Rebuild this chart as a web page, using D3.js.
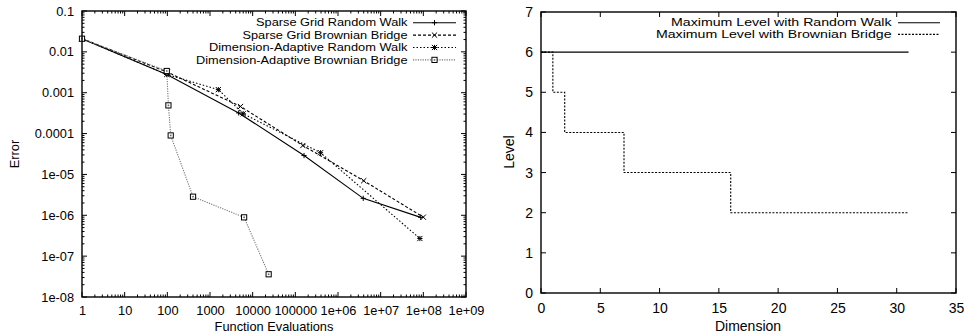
<!DOCTYPE html>
<html>
<head>
<meta charset="utf-8">
<script src="https://cdn.jsdelivr.net/npm/d3@7"></script>
<style>
	body { margin: 0; background: #fff; }
	svg { display: block; font-family: 'Liberation Sans', Arial, sans-serif; }
	text { fill: #000; }
</style>
</head>
<body>
<svg id="chart" width="964" height="334"></svg>
<script>
// --- left chart: error vs function evaluations ---
const evalsSGRW = [1, 97, 4700, 160000, 3.9e6, 8.7e7];
const errorSGRW = [0.021, 0.0028, 3.2e-4, 2.9e-5, 2.6e-6, 8.9e-7];
const evalsSGBB = [1, 100, 5200, 150000, 4.0e6, 1.0e8];
const errorSGBB = [0.021, 0.0032, 4.6e-4, 5.1e-5, 7.0e-6, 9.0e-7];
const evalsDARW = [1, 97, 1570, 6000, 390000, 8.3e7];
const errorDARW = [0.021, 0.0028, 1.19e-3, 3.06e-4, 3.4e-5, 2.7e-7];
const evalsDABB = [1, 97, 106, 120, 400, 6300, 23700];
const errorDABB = [0.021, 0.0034, 4.9e-4, 9.0e-5, 2.85e-6, 8.9e-7, 3.6e-8];

const evalTicks = [1, 10, 100, 1000, 10000, 100000, 1e6, 1e7, 1e8, 1e9];
const evalTickLabels = ['1', '10', '100', '1000', '10000', '100000', '1e+06', '1e+07', '1e+08', '1e+09'];
const errorTicks = [0.1, 0.01, 0.001, 0.0001, 1e-5, 1e-6, 1e-7, 1e-8];
const errorTickLabels = ['0.1', '0.01', '0.001', '0.0001', '1e-05', '1e-06', '1e-07', '1e-08'];

// --- right chart: maximum level per dimension ---
const dims = d3.range(0, 32);
const levelRW = [6, 6, 6, 6, 6, 6, 6, 6, 6, 6, 6, 6, 6, 6, 6, 6,
	6, 6, 6, 6, 6, 6, 6, 6, 6, 6, 6, 6, 6, 6, 6, 6];
const levelBB = [6, 5, 4, 4, 4, 4, 4, 3, 3, 3, 3, 3, 3, 3, 3, 3,
	2, 2, 2, 2, 2, 2, 2, 2, 2, 2, 2, 2, 2, 2, 2, 2];
const dimTicks = [0, 5, 10, 15, 20, 25, 30, 35];
const levelTicks = [0, 1, 2, 3, 4, 5, 6, 7];

const svg = d3.select('#chart');
const fontL = 12.8;
const fontR = 14;
const majorLen = 5;
const minorLen = 2.5;

function frame(g, x0, x1, y0, y1) {
	g.append('rect')
		.attr('x', x0).attr('y', y0)
		.attr('width', x1 - x0).attr('height', y1 - y0)
		.attr('fill', 'none').attr('stroke', '#000').attr('stroke-width', 1.4);
}

function ticks(g, x, y, xt, yt, xMinor, yMinor) {
	const [x0, x1] = x.range();
	const [y1, y0] = y.range();
	const t = g.append('g').attr('stroke', '#000').attr('stroke-width', 1);
	const seg = (a, b, c, d) => t.append('line').attr('x1', a).attr('y1', b).attr('x2', c).attr('y2', d);
	xt.forEach(v => { const p = x(v); seg(p, y1, p, y1 - majorLen); seg(p, y0, p, y0 + majorLen); });
	yt.forEach(v => { const p = y(v); seg(x0, p, x0 + majorLen, p); seg(x1, p, x1 - majorLen, p); });
	xMinor.forEach(v => { const p = x(v); seg(p, y1, p, y1 - minorLen); seg(p, y0, p, y0 + minorLen); });
	yMinor.forEach(v => { const p = y(v); seg(x0, p, x0 + minorLen, p); seg(x1, p, x1 - minorLen, p); });
}

function logMinor(lo, hi) {
	const out = [];
	for (let e = Math.log10(lo); e < Math.log10(hi); e++) {
		for (let k = 2; k <= 9; k++) out.push(k * Math.pow(10, e));
	}
	return out;
}

function marker(g, type, cx, cy, color) {
	const s = 2.6;
	const m = g.append('g').attr('transform', `translate(${cx},${cy})`)
		.attr('stroke', color).attr('stroke-width', 1).attr('fill', 'none');
	if (type === 'plus' || type === 'star') {
		m.append('path').attr('d', `M${-s},0H${s}M0,${-s}V${s}`);
	}
	if (type === 'cross' || type === 'star') {
		m.append('path').attr('d', `M${-s},${-s}L${s},${s}M${-s},${s}L${s},${-s}`);
	}
	if (type === 'square') {
		m.append('rect').attr('x', -s).attr('y', -s).attr('width', 2 * s).attr('height', 2 * s)
			.attr('fill', '#fff').attr('stroke', '#000');
		m.append('rect').attr('x', -0.8).attr('y', -0.8).attr('width', 1.6).attr('height', 1.6)
			.attr('fill', '#666').attr('stroke', 'none');
	}
}

// legend label stretched to the width it has in the original
function legendText(g, xEnd, y, width, size, label) {
	g.append('text').attr('x', xEnd - width).attr('y', y).attr('dy', '0.35em')
		.attr('font-size', size)
		.attr('textLength', width).attr('lengthAdjust', 'spacingAndGlyphs')
		.text(label);
}

// ===== left chart =====
(() => {
	const x = d3.scaleLog().domain([1, 1e9]).range([82, 466]);
	const y = d3.scaleLog().domain([1e-8, 0.1]).range([297, 11]);
	const g = svg.append('g');

	ticks(g, x, y, evalTicks, errorTicks, logMinor(1, 1e9), logMinor(1e-8, 0.1));

	g.append('g').attr('transform', 'translate(0,297)')
		.call(d3.axisBottom(x).tickValues(evalTicks).tickSize(0).tickPadding(9)
			.tickFormat((d, i) => evalTickLabels[i]))
		.call(a => a.select('.domain').remove())
		.selectAll('text').attr('font-size', fontL).attr('font-family', null);
	g.append('g').attr('transform', 'translate(82,0)')
		.call(d3.axisLeft(y).tickValues(errorTicks).tickSize(0).tickPadding(8)
			.tickFormat((d, i) => errorTickLabels[i]))
		.call(a => a.select('.domain').remove())
		.selectAll('text').attr('font-size', fontL).attr('font-family', null);

	const series = [
		{ name: 'Sparse Grid Random Walk', xs: evalsSGRW, ys: errorSGRW, dash: null, color: '#000', mk: 'plus', w: 151.5 },
		{ name: 'Sparse Grid Brownian Bridge', xs: evalsSGBB, ys: errorSGBB, dash: '3,2', color: '#000', mk: 'cross', w: 165 },
		{ name: 'Dimension-Adaptive Random Walk', xs: evalsDARW, ys: errorDARW, dash: '1.5,2', color: '#000', mk: 'star', w: 198.5 },
		{ name: 'Dimension-Adaptive Brownian Bridge', xs: evalsDABB, ys: errorDABB, dash: '1.2,1.2', color: '#777', mk: 'square', w: 211.5 },
	];

	const line = d3.line().x(d => x(d[0])).y(d => y(d[1]));
	series.forEach((s, k) => {
		const pts = s.xs.map((v, i) => [v, s.ys[i]]);
		g.append('path').attr('d', line(pts))
			.attr('fill', 'none').attr('stroke', s.color).attr('stroke-width', 1.1)
			.attr('stroke-dasharray', s.dash);
		pts.forEach(p => marker(g, s.mk, x(p[0]), y(p[1]), s.color === '#777' ? '#000' : s.color));

		// legend entry
		const ly = 22.7 + k * 12.4;
		legendText(g, 407.5, ly, s.w, 10.7, s.name);
		g.append('line').attr('x1', 413).attr('x2', 456).attr('y1', ly).attr('y2', ly)
			.attr('stroke', s.color).attr('stroke-width', 1.1).attr('stroke-dasharray', s.dash);
		marker(g, s.mk, 434.5, ly, s.color === '#777' ? '#000' : s.color);
	});

	frame(g, 82, 466, 11, 297);

	g.append('text').attr('x', 274).attr('y', 331).attr('text-anchor', 'middle')
		.attr('font-size', fontL).text('Function Evaluations');
	g.append('text').attr('transform', 'translate(19,154) rotate(-90)').attr('text-anchor', 'middle')
		.attr('font-size', fontL).text('Error');
})();

// ===== right chart =====
(() => {
	const x = d3.scaleLinear().domain([0, 35]).range([541, 956]);
	const y = d3.scaleLinear().domain([0, 7]).range([293, 12]);
	const g = svg.append('g');

	ticks(g, x, y, dimTicks, levelTicks, [], []);

	g.append('g').attr('transform', 'translate(0,293)')
		.call(d3.axisBottom(x).tickValues(dimTicks).tickSize(0).tickPadding(10).tickFormat(d3.format('d')))
		.call(a => a.select('.domain').remove())
		.selectAll('text').attr('font-size', fontR).attr('font-family', null);
	g.append('g').attr('transform', 'translate(541,0)')
		.call(d3.axisLeft(y).tickValues(levelTicks).tickSize(0).tickPadding(8).tickFormat(d3.format('d')))
		.call(a => a.select('.domain').remove())
		.selectAll('text').attr('font-size', fontR).attr('font-family', null);

	const step = d3.line().curve(d3.curveStepAfter).x(d => x(d[0])).y(d => y(d[1]));
	const series = [
		{ name: 'Maximum Level with Random Walk', ys: levelRW, dash: null, w: 220.5 },
		{ name: 'Maximum Level with Brownian Bridge', ys: levelBB, dash: '2,1.5', w: 235.5 },
	];
	series.forEach((s, k) => {
		const pts = dims.map((d, i) => [d, s.ys[i]]);
		g.append('path').attr('d', step(pts))
			.attr('fill', 'none').attr('stroke', '#000').attr('stroke-width', 1.1)
			.attr('stroke-dasharray', s.dash);
		const ly = 22.7 + k * 11.7;
		legendText(g, 891.5, ly, s.w, 10.1, s.name);
		g.append('line').attr('x1', 898).attr('x2', 940).attr('y1', ly).attr('y2', ly)
			.attr('stroke', '#000').attr('stroke-width', 1.1).attr('stroke-dasharray', s.dash);
	});

	frame(g, 541, 956, 12, 293);

	g.append('text').attr('x', 748).attr('y', 331).attr('text-anchor', 'middle')
		.attr('font-size', fontR).text('Dimension');
	g.append('text').attr('transform', 'translate(514,152) rotate(-90)').attr('text-anchor', 'middle')
		.attr('font-size', fontR).text('Level');
})();
</script>
</body>
</html>
